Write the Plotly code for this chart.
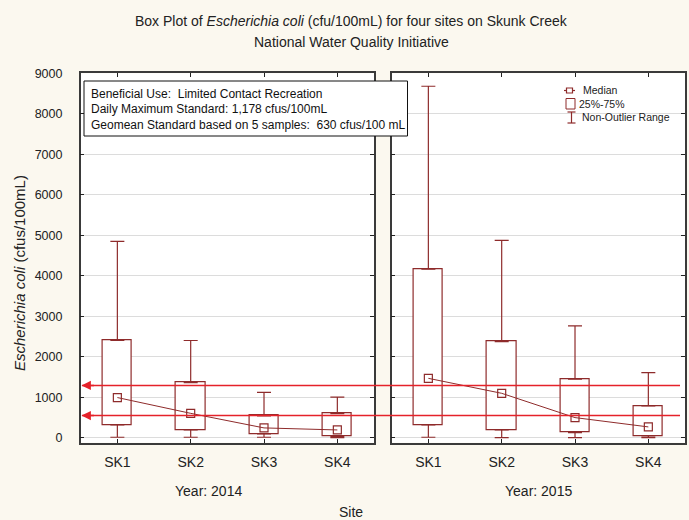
import numpy as np
import plotly.graph_objects as go
from plotly.subplots import make_subplots

# ---------------- data ----------------
sites = ["SK1", "SK2", "SK3", "SK4"]
years = ["Year: 2014", "Year: 2015"]

lower_2014 = [10, 10, 10, 0]
q1_2014 = [315, 190, 90, 25]
median_2014 = [990, 600, 240, 190]
q3_2014 = [2400, 1360, 540, 595]
upper_2014 = [4850, 2400, 1120, 1000]

lower_2015 = [10, 0, 0, 0]
q1_2015 = [315, 190, 125, 45]
median_2015 = [1465, 1095, 495, 265]
q3_2015 = [4160, 2370, 1445, 785]
upper_2015 = [8680, 4875, 2760, 1605]

# standard lines as drawn on the chart
standard_lines = [1290, 545]

annotation_lines = [
    "Beneficial Use:\u00a0 Limited Contact Recreation",
    "Daily Maximum Standard: 1,178 cfus/100mL",
    "Geomean Standard based on 5 samples:\u00a0 630 cfus/100 mL",
]
legend_labels = ["Median", "25%-75%", "Non-Outlier Range"]

y_ticks = [0, 1000, 2000, 3000, 4000, 5000, 6000, 7000, 8000, 9000]

# ---------------- styling ----------------
W, H = 689, 520
DARK = "#8e2b2b"
RED = "#e5222a"
BG = "#fbf8ef"
FONT = "Liberation Sans, Arial, sans-serif"

def px(x):
    return x / W

def py(y):
    return 1 - y / H

fig = make_subplots(rows=1, cols=2, shared_yaxes=True)

panels = [
    (lower_2014, q1_2014, median_2014, q3_2014, upper_2014),
    (lower_2015, q1_2015, median_2015, q3_2015, upper_2015),
]

for col, (lo, q1, med, q3, hi) in enumerate(panels, start=1):
    lo, q1, med, q3, hi = map(np.array, (lo, q1, med, q3, hi))
    # boxes 25%-75%
    fig.add_trace(go.Bar(x=sites, y=q3 - q1, base=q1, width=0.4,
                         marker=dict(color="white", line=dict(color=DARK, width=1.2)),
                         showlegend=False, hoverinfo="skip"), row=1, col=col)
    # upper whisker
    fig.add_trace(go.Scatter(x=sites, y=q3, mode="markers",
                             marker=dict(size=1, opacity=0),
                             error_y=dict(type="data", symmetric=False, array=hi - q3,
                                          arrayminus=np.zeros(4), color=DARK,
                                          thickness=1.2, width=7),
                             showlegend=False, hoverinfo="skip"), row=1, col=col)
    # lower whisker
    fig.add_trace(go.Scatter(x=sites, y=q1, mode="markers",
                             marker=dict(size=1, opacity=0),
                             error_y=dict(type="data", symmetric=False, array=np.zeros(4),
                                          arrayminus=q1 - lo, color=DARK,
                                          thickness=1.2, width=7),
                             showlegend=False, hoverinfo="skip"), row=1, col=col)
    # median
    fig.add_trace(go.Scatter(x=sites, y=med, mode="lines+markers",
                             line=dict(color=DARK, width=1),
                             marker=dict(symbol="square-open", size=8, color=DARK,
                                         line=dict(width=1.2)),
                             showlegend=False), row=1, col=col)

axis_common = dict(showline=True, linecolor="#3a3a3a", linewidth=1.5, mirror="ticks",
                   ticks="inside", ticklen=4, tickcolor="#222", tickwidth=1,
                   automargin=False)

fig.update_xaxes(**axis_common, type="category", range=[-0.5, 3.5], showgrid=False,
                 tickfont=dict(family=FONT, size=14, color="#222"),
                 ticklabelstandoff=6)
fig.update_yaxes(**axis_common, range=[-125, 9000], tickvals=y_ticks,
                 showgrid=True, gridcolor="#dcdcdc", gridwidth=1, zeroline=False,
                 tickfont=dict(family=FONT, size=12.5, color="#222"))
fig.update_yaxes(ticklabelstandoff=14, row=1, col=1)

fig.update_layout(
    width=W, height=H,
    margin=dict(l=0, r=0, t=0, b=0),
    paper_bgcolor=BG, plot_bgcolor="white",
    showlegend=False, bargap=0,
    xaxis=dict(domain=[px(80.7), px(374)]),
    xaxis2=dict(domain=[px(391.7), px(685)]),
    yaxis=dict(domain=[py(442.7), py(73.3)]),
    yaxis2=dict(domain=[py(442.7), py(73.3)]),
)

annotations = []
shapes = []

# titles
annotations.append(dict(text="Box Plot of <i>Escherichia coli</i> (cfu/100mL) for four sites on Skunk Creek",
                        x=px(351), y=py(21), xref="paper", yref="paper", showarrow=False,
                        xanchor="center", yanchor="middle",
                        font=dict(family=FONT, size=14, color="#222")))
annotations.append(dict(text="National Water Quality Initiative",
                        x=px(351), y=py(42), xref="paper", yref="paper", showarrow=False,
                        xanchor="center", yanchor="middle",
                        font=dict(family=FONT, size=14, color="#222")))
# y title
annotations.append(dict(text="<i>Escherichia coli</i> (cfus/100mL)", textangle=-90,
                        x=px(19), y=py(273), xref="paper", yref="paper", showarrow=False,
                        xanchor="center", yanchor="middle",
                        font=dict(family=FONT, size=15, color="#222")))
# panel labels and x title
for label, xc in zip(years, [208, 538]):
    annotations.append(dict(text=label, x=px(xc), y=py(491), xref="paper", yref="paper",
                            showarrow=False, xanchor="center", yanchor="middle",
                            font=dict(family=FONT, size=14, color="#222")))
annotations.append(dict(text="Site", x=px(350.5), y=py(512), xref="paper", yref="paper",
                        showarrow=False, xanchor="center", yanchor="middle",
                        font=dict(family=FONT, size=14, color="#222")))

# standard lines with arrows
for v in standard_lines:
    shapes.append(dict(type="line", xref="paper", yref="y", x0=px(82), x1=px(680),
                       y0=v, y1=v, line=dict(color=RED, width=1.5), layer="above"))
    annotations.append(dict(text="", x=px(81.5), y=v, xref="paper", yref="y",
                            showarrow=True, ax=14, ay=0, arrowhead=2, arrowsize=1.25,
                            arrowwidth=1.5, arrowcolor=RED, standoff=0))

# info box
shapes.append(dict(type="rect", xref="paper", yref="paper", x0=px(84), x1=px(407.5),
                   y0=py(136), y1=py(81), line=dict(color="#111", width=1),
                   fillcolor="white", layer="above"))
for line, yc in zip(annotation_lines, [93.5, 109, 124.5]):
    annotations.append(dict(text=line, x=px(89), y=py(yc), xref="paper", yref="paper",
                            showarrow=False, xanchor="left", yanchor="middle",
                            font=dict(family=FONT, size=12, color="#111")))

# custom legend
shapes.append(dict(type="line", xref="paper", yref="paper", x0=px(564), x1=px(575),
                   y0=py(90.5), y1=py(90.5), line=dict(color=DARK, width=1.2)))
shapes.append(dict(type="rect", xref="paper", yref="paper", x0=px(566.5), x1=px(572.5),
                   y0=py(93), y1=py(88), line=dict(color=DARK, width=1.2), fillcolor="white"))
shapes.append(dict(type="rect", xref="paper", yref="paper", x0=px(566), x1=px(575),
                   y0=py(109), y1=py(98.5), line=dict(color=DARK, width=1), fillcolor="white"))
shapes.append(dict(type="line", xref="paper", yref="paper", x0=px(571.5), x1=px(571.5),
                   y0=py(123), y1=py(112), line=dict(color=DARK, width=1.2)))
shapes.append(dict(type="line", xref="paper", yref="paper", x0=px(567.5), x1=px(575.5),
                   y0=py(112), y1=py(112), line=dict(color=DARK, width=1.2)))
shapes.append(dict(type="line", xref="paper", yref="paper", x0=px(567.5), x1=px(575.5),
                   y0=py(123), y1=py(123), line=dict(color=DARK, width=1.2)))
for lab, xl, yc in zip(legend_labels, [581, 577, 580], [90, 104, 117]):
    annotations.append(dict(text=lab, x=px(xl), y=py(yc), xref="paper", yref="paper",
                            showarrow=False, xanchor="left", yanchor="middle",
                            font=dict(family=FONT, size=10.5, color="#222")))

fig.update_layout(annotations=annotations, shapes=shapes)
fig.write_html("out.html", config={"displayModeBar": False},
               post_script="document.body.style.margin='0px';document.body.style.overflow='hidden';")
